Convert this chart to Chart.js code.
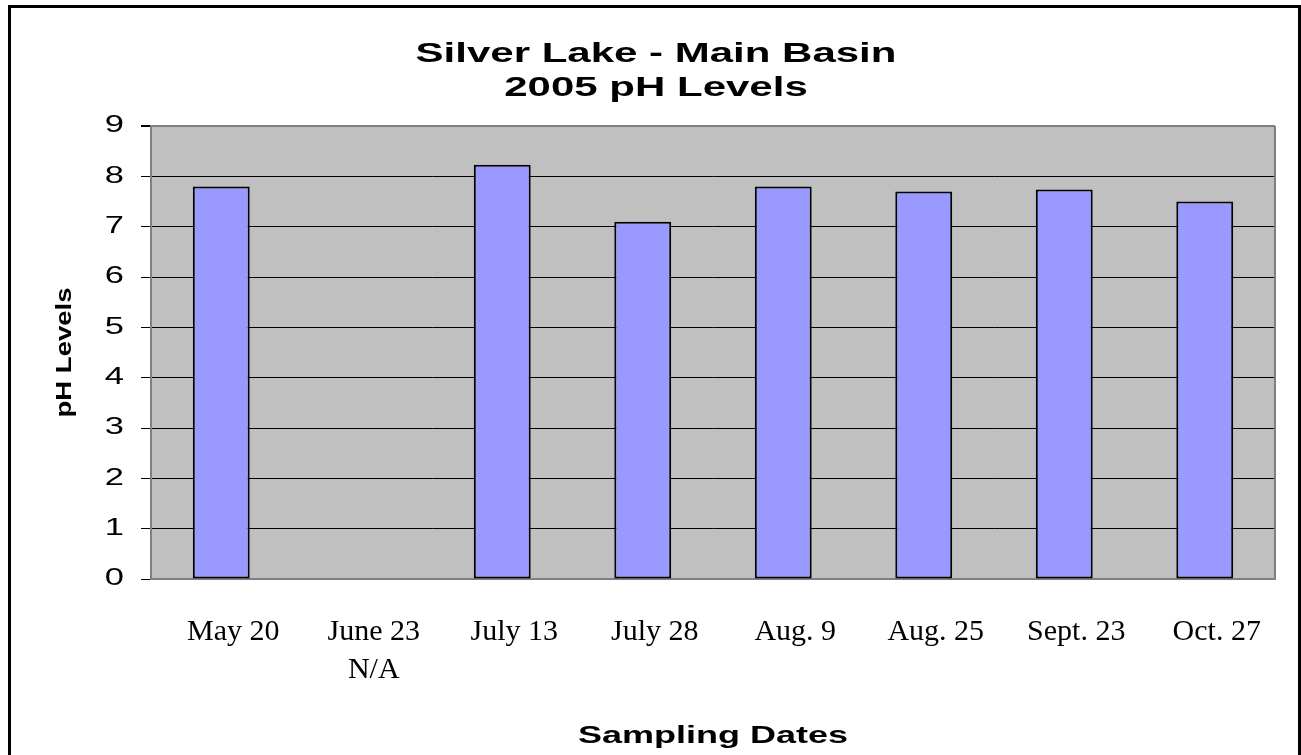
<!DOCTYPE html>
<html>
<head>
<meta charset="utf-8">
<script src="https://cdn.jsdelivr.net/npm/chart.js@4.4.1/dist/chart.umd.min.js"></script>
<style>
  html, body { margin: 0; padding: 0; background: #fff; overflow: hidden; }
  #wrap { position: absolute; left: 0; top: 0; width: 1301px; height: 755px; }
  #frame { position: absolute; left: 8px; top: 5px; width: 1287px; height: 800px; border: 3px solid #000; pointer-events: none; }
</style>
</head>
<body>
<div id="frame"></div>
<div id="wrap"><canvas id="c" width="1301" height="755"></canvas></div>
<script>
// ---- data ----
const chartTitle = ['Silver Lake - Main Basin', '2005 pH Levels'];
const categories = ['May 20', ['June 23', 'N/A'], 'July 13', 'July 28', 'Aug. 9', 'Aug. 25', 'Sept. 23', 'Oct. 27'];
const phValues = [7.8, null, 8.23, 7.1, 7.8, 7.7, 7.74, 7.5];
const yAxisLabel = 'pH Levels';
const xAxisLabel = 'Sampling Dates';
const yMin = 0, yMax = 9, yStep = 1;

// ---- rendering ----
const canvas = document.getElementById('c');
const ctx = canvas.getContext('2d');
// the reference chart's own sans-serif text is horizontally stretched; reproduce that
const origFillText = ctx.fillText;
ctx.fillText = function (text, x, y, maxWidth) {
  const f = this.font || '';
  let sx = 1;
  if (/Liberation Sans/.test(f)) sx = /sans-serif/.test(f) ? 1.25 : 1.5;
  if (sx === 1) return origFillText.call(this, text, x, y, maxWidth);
  this.save();
  this.translate(x, y);
  this.scale(sx, 1);
  origFillText.call(this, text, 0, 0);
  this.restore();
};

const plotFrame = {
  id: 'plotFrame',
  beforeDraw(chart) {
    const { ctx, chartArea: a } = chart;
    ctx.save();
    ctx.fillStyle = '#C0C0C0';
    ctx.fillRect(a.left, a.top, a.right - a.left, a.bottom - a.top);
    ctx.restore();
  },
  beforeDatasetsDraw(chart) {
    const { ctx, chartArea: a } = chart;
    ctx.save();
    ctx.strokeStyle = '#808080';
    ctx.lineWidth = 2;
    ctx.beginPath();
    ctx.moveTo(a.right, a.top);
    ctx.lineTo(a.right, a.bottom);
    ctx.stroke();
    ctx.restore();
  }
};

new Chart(ctx, {
  type: 'bar',
  data: {
    labels: categories,
    datasets: [{
      data: phValues,
      backgroundColor: '#9999FF',
      borderColor: '#000000',
      borderWidth: 2,
      borderSkipped: false,
      categoryPercentage: 1.0,
      barPercentage: 0.405
    }]
  },
  options: {
    responsive: false,
    animation: false,
    devicePixelRatio: 1,
    layout: { padding: { left: 37, right: 26, top: 0, bottom: 0 } },
    plugins: {
      legend: { display: false },
      tooltip: { enabled: false },
      title: {
        display: true,
        text: chartTitle,
        color: '#000',
        font: { family: "'Liberation Sans'", size: 28, weight: 'bold', lineHeight: 1.2143 },
        padding: { top: 37, bottom: 21 }
      }
    },
    scales: {
      x: {
        grid: { display: false, drawTicks: false },
        border: { display: true, color: '#808080', width: 2 },
        ticks: {
          color: '#000',
          font: { family: "'Liberation Serif'", size: 30, lineHeight: 1.267 },
          padding: 34,
          labelOffset: 12,
          autoSkip: false,
          maxRotation: 0,
          minRotation: 0
        },
        title: {
          display: true,
          text: xAxisLabel,
          color: '#000',
          font: { family: "'Liberation Sans'", size: 24, weight: 'bold', lineHeight: 1.2 },
          padding: { top: 0, bottom: 4 }
        },
        afterFit(scale) { scale.height = 176; }
      },
      y: {
        min: yMin,
        max: yMax,
        ticks: {
          stepSize: yStep,
          color: '#000',
          font: { family: "'Liberation Sans'", size: 23 },
          padding: 17
        },
        grid: {
          color: (c) => (c.tick && (c.tick.value === yMin || c.tick.value === yMax)) ? '#808080' : '#000000',
          lineWidth: (c) => (c.tick && c.tick.value === yMax) ? 2 : 1,
          tickColor: '#000000',
          tickLength: 10,
          drawTicks: true
        },
        border: { display: true, color: '#808080', width: 2 },
        title: {
          display: true,
          text: yAxisLabel,
          color: '#000',
          font: { family: "'Liberation Sans', sans-serif", size: 22, weight: 'bold', lineHeight: 1.2 },
          padding: { top: 15, bottom: 0 }
        },
        afterFit(scale) { scale.width = 114; }
      }
    }
  },
  plugins: [plotFrame]
});
</script>
</body>
</html>
